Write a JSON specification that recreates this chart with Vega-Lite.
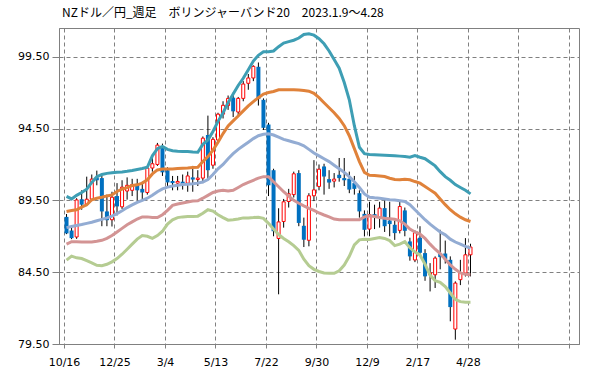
{
"$schema": "https://vega.github.io/schema/vega-lite/v6.json",
"autosize": {"type": "none"},
"width": 520, "height": 316,
"padding": {"left": 59, "top": 28, "right": 20, "bottom": 26},
"background": "#ffffff",
"title": {"text": "NZドル／円_週足　ボリンジャーバンド20　2023.1.9〜4.28", "anchor": "start", "frame": "group", "dx": 3, "offset": 8, "font": "Noto Sans CJK JP", "fontSize": 12, "fontWeight": "normal", "color": "#000000"},
"config": {
  "view": {"stroke": "#808080", "strokeWidth": 1},
  "axis": {"gridColor": "#808080", "gridDash": [4, 3], "gridWidth": 1, "domainColor": "#808080", "tickColor": "#808080", "labelColor": "#000000", "labelFont": "DejaVu Sans", "labelFontSize": 11, "title": null}
},
"data": {"values": [
{"w":0,"o":88.35,"h":88.55,"l":87.15,"c":87.2,"u2":89.78,"u1":88.73,"m":87.6,"l1":86.45,"l2":85.34},
{"w":1,"o":87.4,"h":87.75,"l":86.8,"c":86.87,"u2":89.6,"u1":88.8,"m":87.68,"l1":86.62,"l2":85.62},
{"w":2,"o":86.95,"h":89.65,"l":86.82,"c":89.53,"u2":89.85,"u1":88.84,"m":87.75,"l1":86.62,"l2":85.5},
{"w":3,"o":89.58,"h":90.2,"l":88.85,"c":89.2,"u2":90.05,"u1":89.03,"m":87.82,"l1":86.6,"l2":85.45},
{"w":4,"o":89.22,"h":91.15,"l":89.1,"c":89.58,"u2":90.28,"u1":89.19,"m":87.9,"l1":86.6,"l2":85.3},
{"w":5,"o":89.58,"h":91.3,"l":89.5,"c":90.98,"u2":90.75,"u1":89.54,"m":87.98,"l1":86.6,"l2":85.15},
{"w":6,"o":91.1,"h":91.57,"l":90.55,"c":90.9,"u2":91.15,"u1":89.65,"m":88.08,"l1":86.65,"l2":84.98},
{"w":7,"o":91.05,"h":91.2,"l":87.7,"c":88.73,"u2":91.3,"u1":89.72,"m":88.18,"l1":86.72,"l2":84.95},
{"w":8,"o":88.73,"h":89.9,"l":87.7,"c":88.12,"u2":91.38,"u1":89.81,"m":88.28,"l1":86.85,"l2":85.05},
{"w":9,"o":88.15,"h":90.1,"l":87.68,"c":89.72,"u2":91.42,"u1":89.88,"m":88.4,"l1":87.05,"l2":85.22},
{"w":10,"o":89.8,"h":90.7,"l":88.45,"c":89.08,"u2":91.45,"u1":90.12,"m":88.58,"l1":87.3,"l2":85.45},
{"w":11,"o":89.05,"h":90.9,"l":88.9,"c":90.42,"u2":91.48,"u1":90.28,"m":88.78,"l1":87.55,"l2":85.75},
{"w":12,"o":90.15,"h":91.1,"l":89.55,"c":90.55,"u2":91.52,"u1":90.39,"m":89.0,"l1":87.8,"l2":86.1},
{"w":13,"o":90.2,"h":91.0,"l":89.8,"c":90.6,"u2":91.58,"u1":90.53,"m":89.18,"l1":88.0,"l2":86.45},
{"w":14,"o":90.65,"h":91.0,"l":89.5,"c":90.2,"u2":91.65,"u1":90.58,"m":89.36,"l1":88.2,"l2":86.8},
{"w":15,"o":90.3,"h":90.8,"l":89.45,"c":90.05,"u2":91.72,"u1":90.7,"m":89.5,"l1":88.35,"l2":87.05},
{"w":16,"o":90.05,"h":91.9,"l":89.9,"c":91.75,"u2":91.8,"u1":90.93,"m":89.65,"l1":88.35,"l2":87.0},
{"w":17,"o":91.75,"h":92.6,"l":91.5,"c":92.05,"u2":92.6,"u1":91.34,"m":89.85,"l1":88.3,"l2":86.85},
{"w":18,"o":92.0,"h":93.5,"l":91.9,"c":93.35,"u2":93.1,"u1":91.62,"m":90.1,"l1":88.3,"l2":87.05},
{"w":19,"o":93.25,"h":93.45,"l":91.2,"c":91.45,"u2":93.25,"u1":91.69,"m":90.3,"l1":88.5,"l2":87.35},
{"w":20,"o":91.6,"h":91.8,"l":90.5,"c":90.75,"u2":93.05,"u1":91.69,"m":90.42,"l1":88.8,"l2":87.85},
{"w":21,"o":90.85,"h":91.2,"l":90.2,"c":90.7,"u2":92.95,"u1":91.69,"m":90.5,"l1":89.15,"l2":88.15},
{"w":22,"o":90.7,"h":91.2,"l":90.2,"c":90.82,"u2":92.92,"u1":91.72,"m":90.55,"l1":89.25,"l2":88.3},
{"w":23,"o":90.8,"h":91.3,"l":90.25,"c":90.65,"u2":92.9,"u1":91.74,"m":90.6,"l1":89.32,"l2":88.35},
{"w":24,"o":90.7,"h":91.5,"l":90.1,"c":91.2,"u2":92.9,"u1":91.75,"m":90.62,"l1":89.38,"l2":88.38},
{"w":25,"o":91.1,"h":91.9,"l":90.1,"c":90.95,"u2":92.87,"u1":91.79,"m":90.65,"l1":89.45,"l2":88.38},
{"w":26,"o":90.95,"h":91.6,"l":90.5,"c":91.05,"u2":92.85,"u1":91.8,"m":90.7,"l1":89.47,"l2":88.4},
{"w":27,"o":91.05,"h":93.95,"l":90.7,"c":93.83,"u2":93.4,"u1":92.2,"m":90.78,"l1":89.65,"l2":88.6},
{"w":28,"o":94.05,"h":95.4,"l":90.9,"c":91.6,"u2":93.7,"u1":92.55,"m":90.95,"l1":89.85,"l2":88.85},
{"w":29,"o":91.95,"h":93.9,"l":91.7,"c":93.75,"u2":94.3,"u1":93.0,"m":91.3,"l1":90.05,"l2":88.75},
{"w":30,"o":93.7,"h":95.6,"l":93.5,"c":95.5,"u2":95.0,"u1":93.55,"m":91.7,"l1":90.15,"l2":88.5},
{"w":31,"o":95.5,"h":96.4,"l":95.2,"c":96.12,"u2":95.6,"u1":94.15,"m":92.0,"l1":90.2,"l2":88.3},
{"w":32,"o":96.1,"h":96.8,"l":95.8,"c":96.6,"u2":96.3,"u1":94.68,"m":92.4,"l1":90.15,"l2":88.12},
{"w":33,"o":96.65,"h":97.0,"l":95.3,"c":95.7,"u2":96.9,"u1":95.03,"m":92.75,"l1":90.2,"l2":88.15},
{"w":34,"o":95.65,"h":96.7,"l":95.3,"c":96.6,"u2":97.5,"u1":95.37,"m":93.05,"l1":90.4,"l2":88.2},
{"w":35,"o":96.6,"h":97.8,"l":96.4,"c":97.6,"u2":98.0,"u1":95.73,"m":93.3,"l1":90.6,"l2":88.28},
{"w":36,"o":97.65,"h":98.3,"l":97.2,"c":98.02,"u2":98.6,"u1":96.08,"m":93.55,"l1":90.75,"l2":88.28},
{"w":37,"o":98.02,"h":98.9,"l":97.8,"c":98.83,"u2":99.2,"u1":96.38,"m":93.8,"l1":90.9,"l2":88.3},
{"w":38,"o":98.8,"h":99.1,"l":96.1,"c":96.55,"u2":99.6,"u1":96.65,"m":94.0,"l1":91.05,"l2":88.33},
{"w":39,"o":96.5,"h":96.6,"l":94.4,"c":94.55,"u2":99.85,"u1":96.9,"m":94.1,"l1":91.15,"l2":88.25},
{"w":40,"o":94.78,"h":94.9,"l":89.8,"c":90.55,"u2":99.85,"u1":97.01,"m":94.13,"l1":91.15,"l2":87.9},
{"w":41,"o":91.6,"h":91.7,"l":87.0,"c":87.35,"u2":99.9,"u1":97.08,"m":94.05,"l1":90.8,"l2":87.5},
{"w":42,"o":86.85,"h":88.95,"l":82.96,"c":88.0,"u2":100.2,"u1":97.2,"m":93.9,"l1":90.45,"l2":87.12},
{"w":43,"o":88.03,"h":89.6,"l":87.6,"c":89.4,"u2":100.45,"u1":97.2,"m":93.75,"l1":90.1,"l2":86.85},
{"w":44,"o":89.42,"h":90.3,"l":89.0,"c":89.96,"u2":100.55,"u1":97.2,"m":93.65,"l1":89.8,"l2":86.62},
{"w":45,"o":89.9,"h":91.5,"l":89.7,"c":91.35,"u2":100.65,"u1":97.2,"m":93.55,"l1":89.5,"l2":86.35},
{"w":46,"o":91.4,"h":91.6,"l":87.7,"c":87.93,"u2":100.8,"u1":97.18,"m":93.45,"l1":89.3,"l2":86.02},
{"w":47,"o":87.73,"h":88.3,"l":86.25,"c":86.76,"u2":101.05,"u1":97.15,"m":93.3,"l1":89.12,"l2":85.4},
{"w":48,"o":86.72,"h":90.0,"l":86.3,"c":89.82,"u2":101.1,"u1":97.1,"m":93.05,"l1":88.95,"l2":84.95},
{"w":49,"o":89.82,"h":92.3,"l":89.45,"c":90.23,"u2":101.0,"u1":96.95,"m":92.8,"l1":88.8,"l2":84.7},
{"w":50,"o":90.47,"h":92.0,"l":90.2,"c":91.67,"u2":100.75,"u1":96.65,"m":92.6,"l1":88.62,"l2":84.55},
{"w":51,"o":91.86,"h":92.05,"l":89.9,"c":91.16,"u2":100.4,"u1":96.3,"m":92.4,"l1":88.48,"l2":84.45},
{"w":52,"o":90.98,"h":91.6,"l":90.3,"c":90.74,"u2":99.9,"u1":95.95,"m":92.2,"l1":88.35,"l2":84.42},
{"w":53,"o":90.84,"h":91.4,"l":90.4,"c":90.98,"u2":99.3,"u1":95.6,"m":91.95,"l1":88.2,"l2":84.42},
{"w":54,"o":91.28,"h":92.45,"l":90.8,"c":91.05,"u2":98.7,"u1":95.2,"m":91.7,"l1":88.15,"l2":84.6},
{"w":55,"o":91.05,"h":92.45,"l":90.5,"c":90.9,"u2":97.7,"u1":94.7,"m":91.45,"l1":88.15,"l2":85.0},
{"w":56,"o":91.0,"h":91.5,"l":90.0,"c":90.25,"u2":96.5,"u1":94.0,"m":91.15,"l1":88.15,"l2":85.6},
{"w":57,"o":90.7,"h":91.2,"l":89.9,"c":90.3,"u2":94.7,"u1":93.1,"m":90.8,"l1":88.15,"l2":86.4},
{"w":58,"o":90.0,"h":90.2,"l":88.3,"c":88.73,"u2":93.2,"u1":92.2,"m":90.4,"l1":88.15,"l2":86.75},
{"w":59,"o":88.56,"h":88.8,"l":86.99,"c":87.45,"u2":92.75,"u1":91.45,"m":89.95,"l1":88.35,"l2":86.8},
{"w":60,"o":87.5,"h":89.4,"l":87.0,"c":88.5,"u2":92.7,"u1":91.25,"m":89.72,"l1":88.42,"l2":86.78},
{"w":61,"o":88.54,"h":89.2,"l":87.5,"c":88.38,"u2":92.68,"u1":91.23,"m":89.68,"l1":88.38,"l2":86.85},
{"w":62,"o":88.33,"h":89.4,"l":87.6,"c":88.96,"u2":92.66,"u1":91.2,"m":89.65,"l1":88.3,"l2":86.92},
{"w":63,"o":88.96,"h":89.5,"l":87.3,"c":87.7,"u2":92.64,"u1":91.16,"m":89.6,"l1":88.25,"l2":86.85},
{"w":64,"o":88.1,"h":89.4,"l":87.0,"c":87.85,"u2":92.62,"u1":91.04,"m":89.55,"l1":88.22,"l2":86.7},
{"w":65,"o":87.8,"h":88.1,"l":86.75,"c":87.22,"u2":92.6,"u1":90.95,"m":89.52,"l1":88.18,"l2":86.35},
{"w":66,"o":87.41,"h":89.4,"l":87.2,"c":89.07,"u2":92.58,"u1":90.93,"m":89.48,"l1":88.08,"l2":86.45},
{"w":67,"o":88.8,"h":89.0,"l":87.0,"c":87.38,"u2":92.55,"u1":90.97,"m":89.42,"l1":87.85,"l2":86.62},
{"w":68,"o":86.64,"h":86.9,"l":85.3,"c":85.6,"u2":92.5,"u1":90.93,"m":89.2,"l1":87.5,"l2":86.2},
{"w":69,"o":85.35,"h":87.4,"l":85.2,"c":87.25,"u2":92.62,"u1":90.81,"m":88.85,"l1":87.3,"l2":85.9},
{"w":70,"o":86.9,"h":87.7,"l":85.7,"c":85.85,"u2":92.5,"u1":90.7,"m":88.5,"l1":87.15,"l2":85.7},
{"w":71,"o":85.83,"h":86.1,"l":83.9,"c":84.21,"u2":92.4,"u1":90.47,"m":88.15,"l1":86.85,"l2":85.05},
{"w":72,"o":84.32,"h":85.13,"l":83.16,"c":84.46,"u2":92.15,"u1":90.23,"m":87.85,"l1":86.45,"l2":84.3},
{"w":73,"o":84.32,"h":85.6,"l":83.4,"c":85.48,"u2":91.9,"u1":90.0,"m":87.57,"l1":86.1,"l2":83.9},
{"w":74,"o":85.8,"h":87.45,"l":84.7,"c":85.55,"u2":91.5,"u1":89.6,"m":87.3,"l1":85.8,"l2":83.8},
{"w":75,"o":85.8,"h":86.7,"l":85.1,"c":85.4,"u2":91.15,"u1":89.2,"m":87.1,"l1":85.4,"l2":83.5},
{"w":76,"o":85.36,"h":85.6,"l":81.08,"c":82.07,"u2":90.9,"u1":88.85,"m":86.8,"l1":85.0,"l2":83.05},
{"w":77,"o":80.54,"h":83.86,"l":79.8,"c":83.74,"u2":90.6,"u1":88.56,"m":86.6,"l1":84.7,"l2":82.6},
{"w":78,"o":83.98,"h":85.36,"l":83.6,"c":84.44,"u2":90.4,"u1":88.33,"m":86.45,"l1":84.45,"l2":82.45},
{"w":79,"o":84.44,"h":86.87,"l":84.2,"c":85.71,"u2":90.2,"u1":88.15,"m":86.3,"l1":84.35,"l2":82.4},
{"w":80,"o":85.71,"h":86.48,"l":84.21,"c":86.25,"u2":89.95,"u1":88.03,"m":86.18,"l1":84.32,"l2":82.4}
]},
"encoding": {
  "x": {"field": "w", "type": "quantitative",
    "scale": {"domain": [-0.5, 100.5], "nice": false, "zero": false},
    "axis": {"values": [-0.5, 9.5, 19.5, 29.5, 39.5, 49.5, 59.5, 69.5, 79.5, 89.5, 99.5],
      "labelExpr": "['10/16','12/25','3/4','5/13','7/22','9/30','12/9','2/17','4/28','',''][round((datum.value+0.5)/10)]",
      "labelFlush": false, "labelOverlap": false, "tickSize": 4, "labelPadding": 8, "grid": true}}
},
"layer": [
  {"mark": {"type": "rule", "color": "#000000", "strokeWidth": 1},
   "encoding": {
     "y": {"field": "l", "type": "quantitative",
       "scale": {"domain": [79.5, 101.5], "nice": false, "zero": false},
       "axis": {"values": [79.5, 84.5, 89.5, 94.5, 99.5], "format": ".2f", "tickSize": 7, "labelPadding": 3, "grid": true}},
     "y2": {"field": "h"}}},
  {"transform": [{"filter": "datum.c < datum.o"}],
   "mark": {"type": "bar", "width": 4, "fill": "#0070C0", "stroke": null},
   "encoding": {"y": {"field": "o", "type": "quantitative"}, "y2": {"field": "c"}}},
  {"transform": [{"filter": "datum.c >= datum.o"}],
   "mark": {"type": "bar", "width": 3, "fill": "#ffffff", "stroke": "#FF0000", "strokeWidth": 1},
   "encoding": {"y": {"field": "o", "type": "quantitative"}, "y2": {"field": "c"}}},
  {"mark": {"type": "line", "color": "#B5CC92", "strokeWidth": 3}, "encoding": {"y": {"field": "l2", "type": "quantitative"}}},
  {"mark": {"type": "line", "color": "#D39494", "strokeWidth": 3}, "encoding": {"y": {"field": "l1", "type": "quantitative"}}},
  {"mark": {"type": "line", "color": "#93ACD3", "strokeWidth": 3}, "encoding": {"y": {"field": "m", "type": "quantitative"}}},
  {"mark": {"type": "line", "color": "#E0823A", "strokeWidth": 3}, "encoding": {"y": {"field": "u1", "type": "quantitative"}}},
  {"mark": {"type": "line", "color": "#3E9EB4", "strokeWidth": 3}, "encoding": {"y": {"field": "u2", "type": "quantitative"}}}
]
}
